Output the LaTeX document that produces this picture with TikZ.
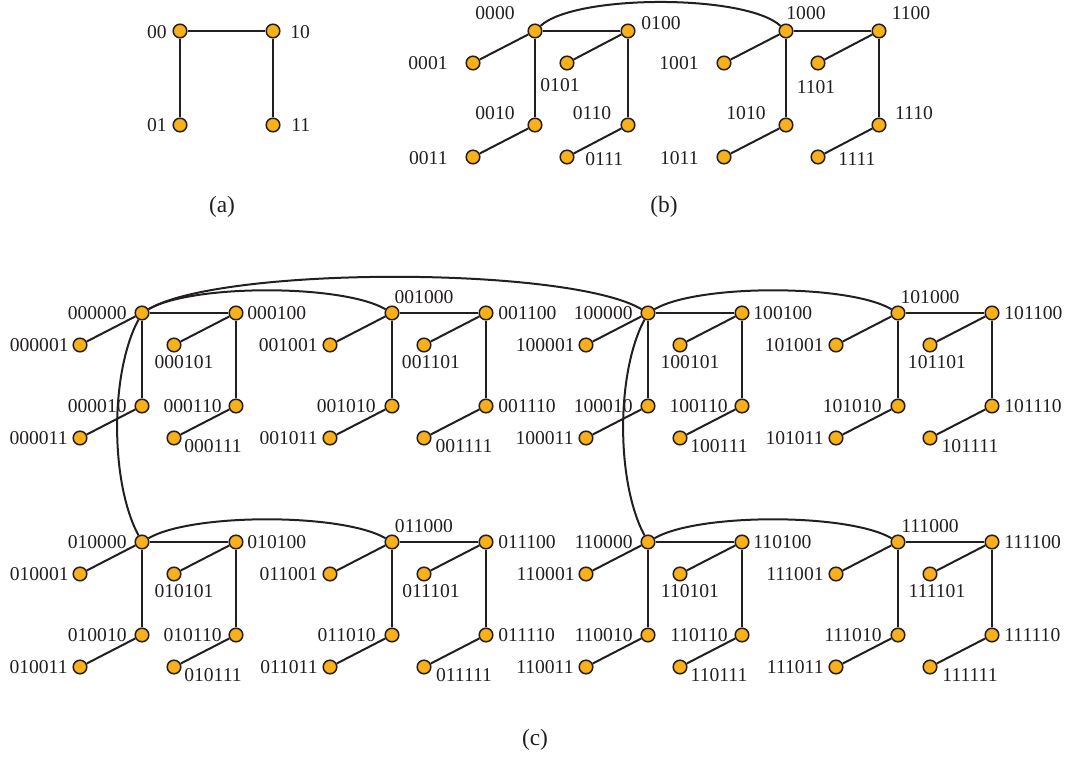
\documentclass[tikz,border=0pt]{standalone}
\usepackage{fontspec}
\setmainfont{Liberation Serif}
\definecolor{nodeorange}{RGB}{250,176,24}
\definecolor{inkcol}{RGB}{35,31,32}
\tikzset{
  vtx/.style={circle,draw=inkcol,fill=nodeorange,line width=0.75pt,minimum size=6.8pt,inner sep=0pt},
  edge/.style={draw=inkcol,line width=1pt},
  lbl/.style={inner sep=0pt,font=\fontsize{9.8}{11}\selectfont,text=inkcol},
  captxt/.style={inner sep=0pt,font=\fontsize{11.7}{13}\selectfont,text=inkcol},
}
% (c) sub-cube: #1 prefix, #2 X, #3 Y, #4 label side (0 left, 1 right)
\newcommand\hcube[4]{%
  \node[vtx] (c#1000) at (#2,#3) {};
  \node[vtx] (c#1100) at (#2+94,#3) {};
  \node[vtx] (c#1001) at (#2-62,#3+32) {};
  \node[vtx] (c#1101) at (#2+32,#3+32) {};
  \node[vtx] (c#1010) at (#2,#3+93) {};
  \node[vtx] (c#1110) at (#2+94,#3+93) {};
  \node[vtx] (c#1011) at (#2-62,#3+125) {};
  \node[vtx] (c#1111) at (#2+32,#3+125) {};
  \draw[edge] (c#1000) -- (c#1100);
  \draw[edge] (c#1000) -- (c#1001);
  \draw[edge] (c#1000) -- (c#1010);
  \draw[edge] (c#1100) -- (c#1101);
  \draw[edge] (c#1100) -- (c#1110);
  \draw[edge] (c#1010) -- (c#1011);
  \draw[edge] (c#1110) -- (c#1111);
  \ifnum#4=0
    \node[lbl,anchor=east] (l#1000) at (#2-15,#3) {#1000};
    \node[lbl,anchor=west] (l#1100) at (#2+94+11,#3) {#1100};
    \node[lbl,anchor=east] (l#1001) at (#2-62-11,#3+32) {#1001};
    \node[lbl] (l#1101) at (#2+32+10,#3+32+17) {#1101};
    \node[lbl,anchor=east] (l#1010) at (#2-15,#3+93) {#1010};
    \node[lbl,anchor=east] (l#1110) at (#2+94-14,#3+93) {#1110};
    \node[lbl,anchor=east] (l#1011) at (#2-62-12,#3+125) {#1011};
    \node[lbl] (l#1111) at (#2+32+39,#3+125+8) {#1111};
  \else
    \node[lbl] (l#1000) at (#2+32,#3-16) {#1000};
    \node[lbl,anchor=west] (l#1100) at (#2+94+12,#3) {#1100};
    \node[lbl,anchor=east] (l#1001) at (#2-62-12,#3+32) {#1001};
    \node[lbl] (l#1101) at (#2+32+7,#3+32+17) {#1101};
    \node[lbl,anchor=east] (l#1010) at (#2-16,#3+93) {#1010};
    \node[lbl,anchor=west] (l#1110) at (#2+94+12,#3+93) {#1110};
    \node[lbl,anchor=east] (l#1011) at (#2-62-12,#3+125) {#1011};
    \node[lbl] (l#1111) at (#2+32+40,#3+125+8) {#1111};
  \fi
}
% (b) sub-cube: #1 prefix bit, #2 X
\newcommand\bcube[2]{%
  \node[vtx] (b#1000) at (#2,31) {};
  \node[vtx] (b#1100) at (#2+93,31) {};
  \node[vtx] (b#1001) at (#2-62,63) {};
  \node[vtx] (b#1101) at (#2+32,63) {};
  \node[vtx] (b#1010) at (#2,125) {};
  \node[vtx] (b#1110) at (#2+93,125) {};
  \node[vtx] (b#1011) at (#2-62,157) {};
  \node[vtx] (b#1111) at (#2+32,157) {};
  \draw[edge] (b#1000) -- (b#1100);
  \draw[edge] (b#1000) -- (b#1001);
  \draw[edge] (b#1000) -- (b#1010);
  \draw[edge] (b#1100) -- (b#1101);
  \draw[edge] (b#1100) -- (b#1110);
  \draw[edge] (b#1010) -- (b#1011);
  \draw[edge] (b#1110) -- (b#1111);
  \node[lbl,anchor=east] (lb#1001) at (#2-62-25,63) {#1001};
  \node[lbl] (lb#1010) at (#2-40,113) {#1010};
  \node[lbl,anchor=east] (lb#1011) at (#2-62-25,158) {#1011};
}
\begin{document}
\begin{tikzpicture}[x=0.5pt,y=-0.5pt]
\useasboundingbox (0,0) rectangle (1067,758);

% ---------- (a) ----------
\node[vtx] (a00) at (180,31) {};
\node[vtx] (a10) at (273,31) {};
\node[vtx] (a01) at (180,125) {};
\node[vtx] (a11) at (273,125) {};
\draw[edge] (a00) -- (a10);
\draw[edge] (a00) -- (a01);
\draw[edge] (a10) -- (a11);
\node[lbl,anchor=east] (la00) at (167,32) {00};
\node[lbl,anchor=west] (la10) at (290,32) {10};
\node[lbl,anchor=east] (la01) at (167,125) {01};
\node[lbl,anchor=west] (la11) at (291,125) {11};
\node[captxt] (capa) at (222,207) {(a)};

% ---------- (b) ----------
\bcube{0}{535}
\bcube{1}{786}
\node[lbl] (lb0000) at (495,13) {0000};
\node[lbl,anchor=west] (lb0100) at (641,23) {0100};
\node[lbl] (lb0101) at (560,85) {0101};
\node[lbl] (lb0110) at (592,113) {0110};
\node[lbl,anchor=west] (lb0111) at (585,159) {0111};
\node[lbl] (lb1000) at (806,13) {1000};
\node[lbl] (lb1100) at (911,13) {1100};
\node[lbl] (lb1101) at (816,87) {1101};
\node[lbl] (lb1110) at (914,113) {1110};
\node[lbl] (lb1111) at (857,159) {1111};
\draw[edge] (b0000) .. controls (575,-6) and (746,-6) .. (b1000);
\node[captxt] (capb) at (664,207) {(b)};

% ---------- (c) ----------
\hcube{000}{142}{313}{0}
\hcube{001}{392}{313}{1}
\hcube{100}{648}{313}{0}
\hcube{101}{898}{313}{1}
\hcube{010}{142}{542}{0}
\hcube{011}{392}{542}{1}
\hcube{110}{648}{542}{0}
\hcube{111}{898}{542}{1}
\draw[edge] (c000000) .. controls (222,266) and (568,266) .. (c100000);
\draw[edge] (c000000) .. controls (192,284) and (342,284) .. (c001000);
\draw[edge] (c100000) .. controls (698,284) and (848,284) .. (c101000);
\draw[edge] (c010000) .. controls (192,513) and (342,513) .. (c011000);
\draw[edge] (c110000) .. controls (698,513) and (848,513) .. (c111000);
\draw[edge] (c000000) .. controls (110,373) and (110,482) .. (c010000);
\draw[edge] (c100000) .. controls (616,373) and (616,482) .. (c110000);
\node[captxt] (capc) at (535,740) {(c)};
\end{tikzpicture}
\end{document}
